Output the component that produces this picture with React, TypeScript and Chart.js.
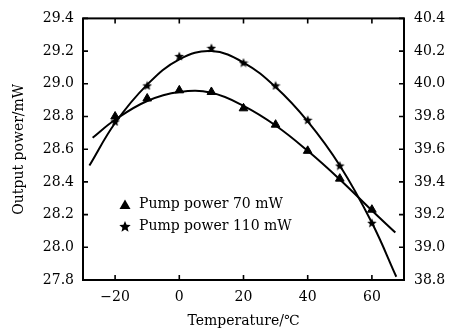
import React, { useEffect, useRef } from "react";
import { Chart, registerables } from "chart.js";

Chart.register(...registerables);

// ---- data ----
const temperatures = [-20, -10, 0, 10, 20, 30, 40, 50, 60];
const pump70 = [28.8, 28.91, 28.96, 28.95, 28.85, 28.75, 28.59, 28.42, 28.23];
const pump110 = [39.77, 39.99, 40.17, 40.22, 40.13, 39.99, 39.78, 39.5, 39.15];

const fit70X = [-27, -20, -10, 0, 10, 20, 30, 40, 50, 60, 67.3];
const fit70Y = [28.67, 28.78, 28.895, 28.95, 28.945, 28.865, 28.745, 28.59, 28.415, 28.225, 28.09];
const fit110X = [-28, -20, -10, 0, 10, 20, 30, 40, 50, 60, 67.6];
const fit110Y = [39.5, 39.76, 39.995, 40.15, 40.2, 40.13, 39.98, 39.77, 39.5, 39.15, 38.82];

const xTicks = [-20, 0, 20, 40, 60];
const leftTicks = [27.8, 28.0, 28.2, 28.4, 28.6, 28.8, 29.0, 29.2, 29.4];
const rightTicks = [38.8, 39.0, 39.2, 39.4, 39.6, 39.8, 40.0, 40.2, 40.4];
const legendLabels = ["Pump power 70 mW", "Pump power 110 mW"];
const xTitle = "Temperature/\u2103";
const yTitle = "Output power/mW";

const FONT = "'DejaVu Serif', 'Liberation Serif', serif";

function starPath(ctx: CanvasRenderingContext2D, cx: number, cy: number, r: number) {
  const inner = r * 0.45;
  ctx.beginPath();
  for (let i = 0; i < 10; i++) {
    const rr = i % 2 === 0 ? r : inner;
    const a = -Math.PI / 2 + (i * Math.PI) / 5;
    const x = cx + rr * Math.cos(a);
    const y = cy + rr * Math.sin(a);
    if (i === 0) ctx.moveTo(x, y);
    else ctx.lineTo(x, y);
  }
  ctx.closePath();
}

function makeStarCanvas(size: number) {
  const c = document.createElement("canvas");
  c.width = size;
  c.height = size;
  const ctx = c.getContext("2d")!;
  ctx.fillStyle = "#000";
  starPath(ctx, size / 2, size / 2 + 0.5, size / 2);
  ctx.fill();
  return c;
}

const framePlugin = {
  id: "frameTicksLegend",
  afterDatasetsDraw(chart: any) {
    const { ctx, chartArea } = chart;
    const { left, right, top, bottom } = chartArea;
    const xs = chart.scales.x;
    const yl = chart.scales.y;
    const yr = chart.scales.y2;
    const tl = 5;
    ctx.save();
    ctx.strokeStyle = "#000";
    ctx.lineWidth = 2;
    ctx.strokeRect(left, top, right - left, bottom - top);
    ctx.lineWidth = 1.6;
    ctx.beginPath();
    xTicks.forEach((v) => {
      const px = xs.getPixelForValue(v);
      ctx.moveTo(px, bottom);
      ctx.lineTo(px, bottom - tl);
      ctx.moveTo(px, top);
      ctx.lineTo(px, top + tl);
    });
    leftTicks.forEach((v) => {
      const py = yl.getPixelForValue(v);
      ctx.moveTo(left, py);
      ctx.lineTo(left + tl, py);
    });
    rightTicks.forEach((v) => {
      const py = yr.getPixelForValue(v);
      ctx.moveTo(right, py);
      ctx.lineTo(right - tl, py);
    });
    ctx.stroke();

    // legend
    const lx = left + 42;
    const ly1 = top + 186;
    const ly2 = top + 208;
    ctx.fillStyle = "#000";
    ctx.beginPath();
    ctx.moveTo(lx, ly1 - 5);
    ctx.lineTo(lx + 5.5, ly1 + 4.5);
    ctx.lineTo(lx - 5.5, ly1 + 4.5);
    ctx.closePath();
    ctx.fill();
    starPath(ctx, lx, ly2 + 0.5, 6);
    ctx.fill();
    ctx.font = `14px ${FONT}`;
    ctx.textBaseline = "middle";
    ctx.textAlign = "left";
    ctx.fillText(legendLabels[0], left + 56, ly1);
    ctx.fillText(legendLabels[1], left + 56, ly2);
    ctx.restore();
  },
};

export default function App() {
  const ref = useRef<HTMLCanvasElement | null>(null);
  useEffect(() => {
    document.body.style.margin = "0";
    const canvas = ref.current!;
    const star = makeStarCanvas(10);
    const chart = new Chart(canvas, {
      type: "scatter",
      data: {
        datasets: [
          {
            label: legendLabels[0],
            data: temperatures.map((t, i) => ({ x: t, y: pump70[i] })),
            yAxisID: "y",
            pointStyle: "triangle",
            pointRadius: 5,
            backgroundColor: "#000",
            borderColor: "#000",
            borderWidth: 1,
            showLine: false,
          },
          {
            label: legendLabels[1],
            data: temperatures.map((t, i) => ({ x: t, y: pump110[i] })),
            yAxisID: "y2",
            pointStyle: star as any,
            pointRadius: 5,
            backgroundColor: "#000",
            borderColor: "#000",
            showLine: false,
          },
          {
            label: "fit70",
            data: fit70X.map((t, i) => ({ x: t, y: fit70Y[i] })),
            yAxisID: "y",
            showLine: true,
            pointRadius: 0,
            borderColor: "#000",
            borderWidth: 2,
            tension: 0.4,
          },
          {
            label: "fit110",
            data: fit110X.map((t, i) => ({ x: t, y: fit110Y[i] })),
            yAxisID: "y2",
            showLine: true,
            pointRadius: 0,
            borderColor: "#000",
            borderWidth: 2,
            tension: 0.4,
          },
        ],
      },
      options: {
        responsive: false,
        animation: false,
        layout: { padding: { top: 16, left: 0, right: 0, bottom: 0 } },
        plugins: { legend: { display: false }, tooltip: { enabled: false } },
        scales: {
          x: {
            type: "linear",
            min: -30,
            max: 70,
            afterBuildTicks: (s: any) => {
              s.ticks = xTicks.map((v) => ({ value: v }));
            },
            afterFit: (s: any) => {
              s.height = 54;
            },
            grid: { display: false, drawTicks: false },
            border: { display: false },
            ticks: {
              color: "#000",
              font: { family: FONT, size: 14 },
              padding: 9,
              callback: (v: any) => (Number(v) < 0 ? "\u2212" + Math.abs(Number(v)) : String(v)),
            },
            title: {
              display: true,
              text: xTitle,
              color: "#000",
              font: { family: FONT, size: 14 },
              padding: { top: 0, bottom: 4 },
            },
          },
          y: {
            type: "linear",
            position: "left",
            min: 27.8,
            max: 29.4,
            afterBuildTicks: (s: any) => {
              s.ticks = leftTicks.map((v) => ({ value: v }));
            },
            afterFit: (s: any) => {
              s.width = 83;
            },
            grid: { display: false, drawTicks: false },
            border: { display: false },
            ticks: {
              color: "#000",
              font: { family: FONT, size: 14 },
              padding: 9,
              callback: (v: any) => Number(v).toFixed(1),
            },
            title: {
              display: true,
              text: yTitle,
              color: "#000",
              font: { family: FONT, size: 14 },
              padding: { top: 11, bottom: 0 },
            },
          },
          y2: {
            type: "linear",
            position: "right",
            min: 38.8,
            max: 40.4,
            afterBuildTicks: (s: any) => {
              s.ticks = rightTicks.map((v) => ({ value: v }));
            },
            afterFit: (s: any) => {
              s.width = 50;
            },
            grid: { display: false, drawTicks: false },
            border: { display: false },
            ticks: {
              color: "#000",
              font: { family: FONT, size: 14 },
              padding: 10,
              callback: (v: any) => Number(v).toFixed(1),
            },
          },
        },
      },
      plugins: [framePlugin],
    });
    return () => chart.destroy();
  }, []);
  return (
    <div style={{ width: 454, height: 334, background: "#fff" }}>
      <canvas ref={ref} width={454} height={334} style={{ display: "block" }} />
    </div>
  );
}
